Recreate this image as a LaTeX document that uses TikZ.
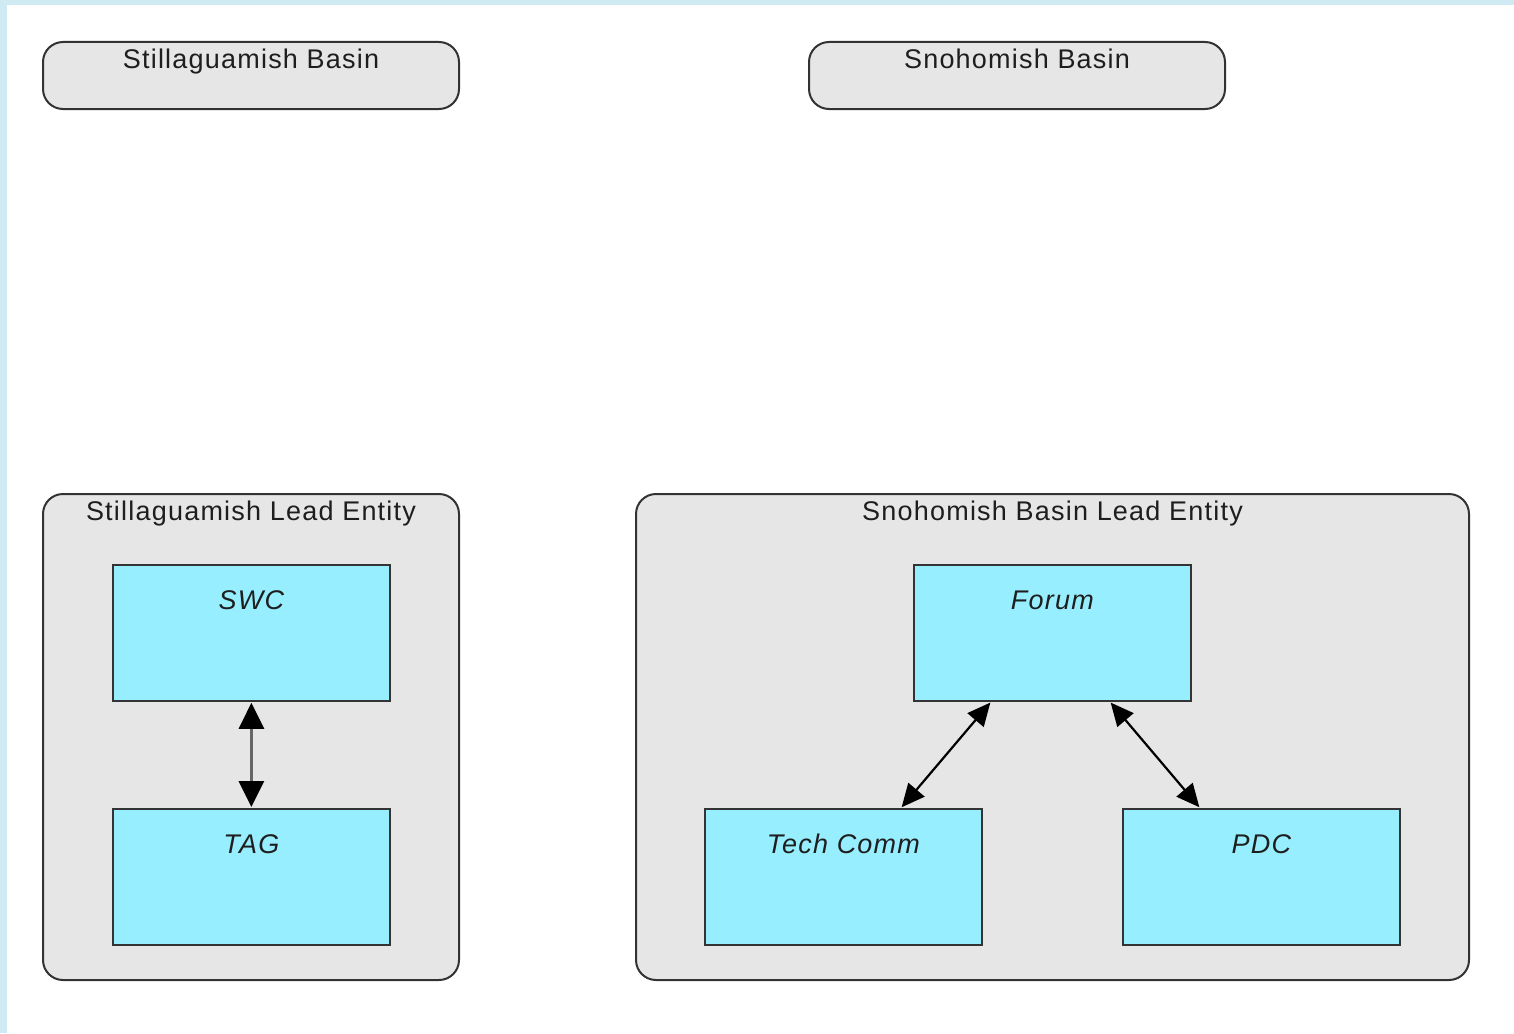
\documentclass[tikz,border=0pt]{standalone}
\usepackage{fontspec}
\setmainfont[LetterSpace=4.5]{Liberation Sans}
\usetikzlibrary{arrows.meta,calc}
\definecolor{edgeblue}{HTML}{CFEAF2}
\definecolor{groupfill}{HTML}{E6E6E6}
\definecolor{boxfill}{HTML}{96EEFF}
\definecolor{linegray}{HTML}{333333}
\definecolor{textgray}{HTML}{1E1E1E}
\begin{document}
\begin{tikzpicture}[x=1pt,y=-1pt,
  group/.style={draw=linegray,line width=2pt,fill=groupfill,rounded corners=20pt,
    inner sep=0pt,anchor=north west},
  unit/.style={draw=linegray,line width=1.8pt,fill=boxfill,inner sep=0pt,
    anchor=north west,minimum width=277pt,minimum height=136pt},
  grouptitle/.style={anchor=base,inner sep=0pt,text=textgray,
    font=\fontsize{27}{32}\selectfont},
  unittitle/.style={anchor=base,inner sep=0pt,text=textgray,
    font=\fontsize{27}{32}\selectfont\itshape},
  link/.style={line width=2.2pt,draw=black,
    {Triangle[length=23pt,width=21pt,color=black]}-{Triangle[length=23pt,width=21pt,color=black]},
    shorten <=1pt,shorten >=1pt}]
\useasboundingbox (0,0) rectangle (1514,1033);
% page background with the tinted margin strips
\fill[white] (0,0) rectangle (1514,1033);
\fill[edgeblue] (0,0) rectangle (1514,5);
\fill[edgeblue] (0,0) rectangle (7,1033);

% basin headers
\node[group,minimum width=416pt,minimum height=67pt] (stillbasin) at (42,41) {};
\node[group,minimum width=416pt,minimum height=67pt] (snobasin) at (808,41) {};
\node[grouptitle] (stillbasintxt) at ($(stillbasin.north)+(0,27)$) {Stillaguamish Basin};
\node[grouptitle] (snobasintxt) at ($(snobasin.north)+(0,27)$) {Snohomish Basin};

% lead entity groups
\node[group,minimum width=416pt,minimum height=486pt] (stilllead) at (42,493) {};
\node[group,minimum width=833pt,minimum height=486pt] (snolead) at (635,493) {};
\node[grouptitle] (stillleadtxt) at ($(stilllead.north)+(0,27)$) {Stillaguamish Lead Entity};
\node[grouptitle] (snoleadtxt) at ($(snolead.north)+(0,27)$) {Snohomish Basin Lead Entity};

% member bodies
\node[unit] (swc) at (112,564) {};
\node[unit] (tag) at (112,808) {};
\node[unit] (forum) at (913,564) {};
\node[unit] (tech) at (704,808) {};
\node[unit] (pdc) at (1122,808) {};
\node[unittitle] (swctxt) at ($(swc.north)+(0,45)$) {SWC};
\node[unittitle] (tagtxt) at ($(tag.north)+(0,45)$) {TAG};
\node[unittitle] (forumtxt) at ($(forum.north)+(0,45)$) {Forum};
\node[unittitle] (techtxt) at ($(tech.north)+(0,45)$) {Tech Comm};
\node[unittitle] (pdctxt) at ($(pdc.north)+(0,45)$) {PDC};

% two-way links
\draw[link,draw=black!60,line width=3pt,
  {Triangle[length=26pt,width=25pt,color=black]}-{Triangle[length=26pt,width=25pt,color=black]}]
  (swc.south) -- (tag.north);
\draw[link] ($(forum.south west)+(78,0)$) -- ($(tech.north west)+(197,0)$);
\draw[link] ($(forum.south west)+(197,0)$) -- ($(pdc.north west)+(78,0)$);
\end{tikzpicture}
\end{document}
